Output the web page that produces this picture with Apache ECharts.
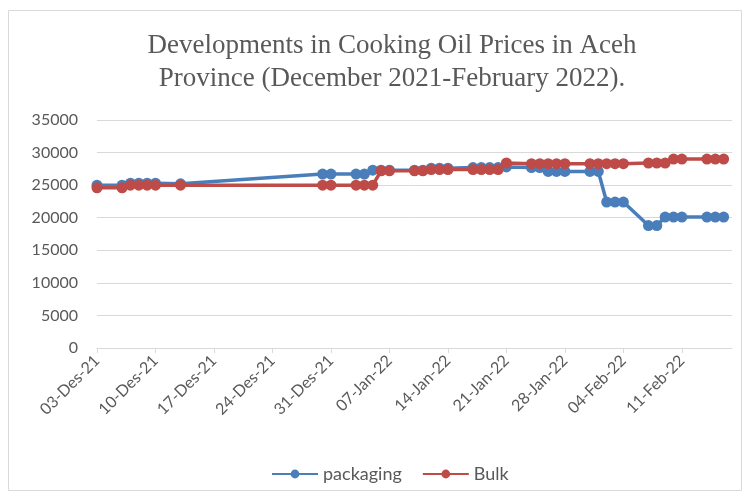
<!DOCTYPE html>
<html>
<head>
<meta charset="utf-8">
<script src="https://cdn.jsdelivr.net/npm/echarts@6/dist/echarts.min.js"></script>
<style>
html,body{margin:0;padding:0;background:#fff;}
#chart{width:750px;height:498px;}
</style>
</head>
<body>
<div id="chart"></div>
<script>
// ---- data ----
const dates = [
  '2021-12-03','2021-12-06','2021-12-07','2021-12-08','2021-12-09','2021-12-10','2021-12-13',
  '2021-12-30','2021-12-31',
  '2022-01-03','2022-01-04','2022-01-05','2022-01-06','2022-01-07',
  '2022-01-10','2022-01-11','2022-01-12','2022-01-13','2022-01-14',
  '2022-01-17','2022-01-18','2022-01-19','2022-01-20','2022-01-21',
  '2022-01-24','2022-01-25','2022-01-26','2022-01-27','2022-01-28',
  '2022-01-31','2022-02-01','2022-02-02','2022-02-03','2022-02-04',
  '2022-02-07','2022-02-08','2022-02-09','2022-02-10','2022-02-11',
  '2022-02-14','2022-02-15','2022-02-16'
];
const packaging = [
  25000,25000,25300,25300,25300,25300,25200,
  26700,26700,
  26700,26700,27300,27300,27300,
  27300,27300,27600,27600,27600,
  27700,27700,27700,27700,27800,
  27700,27700,27100,27100,27100,
  27100,27100,22400,22400,22400,
  18800,18800,20100,20100,20100,
  20100,20100,20100
];
const bulk = [
  24600,24600,25000,25000,25000,25000,25000,
  25000,25000,
  25000,25000,25000,27200,27200,
  27200,27200,27400,27400,27400,
  27400,27400,27400,27400,28400,
  28300,28300,28300,28300,28300,
  28300,28300,28300,28300,28300,
  28400,28400,28400,29000,29000,
  29000,29000,29000
];
const seriesNames = ['packaging','Bulk'];
const startDate = '2021-12-03';
const endDate = '2022-02-17';
const monthNames = ['Jan','Feb','Mar','Apr','Mei','Jun','Jul','Agu','Sep','Okt','Nov','Des'];
const titleText = 'Developments in Cooking Oil Prices in Aceh\nProvince (December 2021-February 2022).';

// ---- helpers ----
const DAY = 86400000;
function toUTC(s){const p=s.split('-').map(Number);return Date.UTC(p[0],p[1]-1,p[2]);}
const t0 = toUTC(startDate);
function dayOffset(s){return Math.round((toUTC(s)-t0)/DAY);}
function fmt(off){
  const d = new Date(t0 + off*DAY);
  const dd = String(d.getUTCDate()).padStart(2,'0');
  const yy = String(d.getUTCFullYear()).slice(2);
  return dd + '-' + monthNames[d.getUTCMonth()] + '-' + yy;
}
const xMax = dayOffset(endDate);
const pkData = dates.map((d,i)=>[dayOffset(d), packaging[i]]);
const bkData = dates.map((d,i)=>[dayOffset(d), bulk[i]]);

const chart = echarts.init(document.getElementById('chart'), null, {renderer:'canvas'});
const gray = '#595959';
chart.setOption({
  animation:false,
  backgroundColor:'#ffffff',
  graphic:[{
    type:'rect', silent:true, z:-10,
    shape:{x:8.5,y:10.5,width:733,height:480},
    style:{fill:'none',stroke:'#d9d9d9',lineWidth:1}
  }],
  title:{
    text:titleText,
    left:387, top:24, textAlign:'center',
    textStyle:{fontFamily:'Liberation Serif',fontSize:27,fontWeight:'normal',color:gray,lineHeight:33}
  },
  legend:{
    data:seriesNames,
    top:460, left:266,
    itemWidth:46, itemHeight:11, itemGap:20,
    textStyle:{fontFamily:'Lato',fontSize:18,color:gray}
  },
  grid:{left:97,right:18,top:120,bottom:150},
  xAxis:{
    type:'value', min:0, max:xMax, interval:7,
    axisLine:{show:true,lineStyle:{color:'#d9d9d9',width:1}},
    axisTick:{show:true,length:5,lineStyle:{color:'#d9d9d9'}},
    splitLine:{show:false},
    axisLabel:{
      rotate:45, margin:10, color:gray, fontFamily:'Lato', fontSize:16,
      showMaxLabel:false,
      formatter:function(v){return fmt(v);}
    }
  },
  yAxis:{
    type:'value', min:0, max:35000, interval:5000,
    axisLine:{show:false}, axisTick:{show:false},
    splitLine:{lineStyle:{color:'#d9d9d9',width:1}},
    axisLabel:{color:gray,fontFamily:'Lato',fontSize:16,margin:19,
      formatter:function(v){return String(v);}}
  },
  series:[
    {name:seriesNames[0],type:'line',data:pkData,symbol:'circle',symbolSize:11,
     lineStyle:{color:'#4a7ebb',width:3.5},itemStyle:{color:'#4a7ebb'}},
    {name:seriesNames[1],type:'line',data:bkData,symbol:'circle',symbolSize:11,
     lineStyle:{color:'#be4b48',width:3.5},itemStyle:{color:'#be4b48'}}
  ]
});
</script>
</body>
</html>
